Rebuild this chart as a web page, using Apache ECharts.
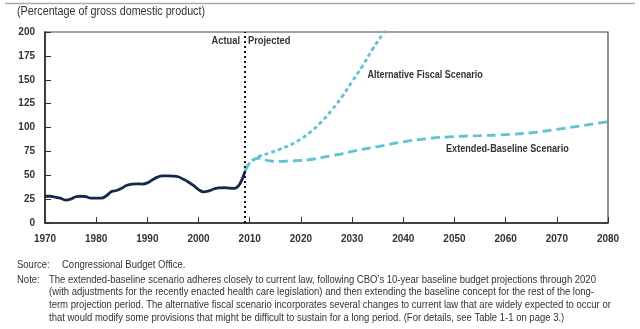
<!DOCTYPE html>
<html>
<head>
<meta charset="utf-8">
<script src="https://cdn.jsdelivr.net/npm/echarts@6/dist/echarts.min.js"></script>
<style>
  html, body { margin: 0; padding: 0; background: #fff; }
  #chart { width: 640px; height: 329px; }
</style>
</head>
<body>
<div id="chart"></div>
<script>
// Federal debt held by the public, percentage of GDP
const actualYears = [1970,1971,1972,1973,1974,1975,1976,1977,1978,1979,1980,1981,1982,1983,1984,1985,1986,1987,1988,1989,1990,1991,1992,1993,1994,1995,1996,1997,1998,1999,2000,2001,2002,2003,2004,2005,2006,2007,2008,2009];
const actualDebt = [28,28,27,26,24,25,27.5,28,27.5,26,26,26,28.5,33,34,36.5,39.5,40.8,41,40.8,42,45.3,48.1,49.3,49.3,49.1,48.4,45.9,43,39.4,35,32.6,33.6,35.6,36.8,36.9,36.5,36.2,40.2,53];

const altYears = [2009,2010,2011,2012,2014,2016,2018,2020,2022,2024,2026,2028,2030,2032,2034,2036,2037];
const altDebt = [53,63,67,70,73.5,77.5,82,88,96,106,118,132,148,164,182,198,207];

const baseYears = [2009,2010,2011,2012,2013,2014,2016,2018,2020,2022,2024,2026,2028,2030,2035,2040,2045,2050,2055,2060,2065,2070,2075,2080];
const baseDebt = [53,63,67,68,66,65,64.5,65,65.5,66.5,68.5,70.5,72.5,75,80,85,88.5,90.5,91.5,92.5,94.5,98,102,106];

const xTicks = [1970,1980,1990,2000,2010,2020,2030,2040,2050,2060,2070,2080];
const yTicks = [0,25,50,75,100,125,150,175,200];
const boundaryYear = 2009;

const noteLines = [
  'The extended-baseline scenario adheres closely to current law, following CBO\u2019s 10-year baseline budget projections through 2020',
  '(with adjustments for the recently enacted health care legislation) and then extending the baseline concept for the rest of the long-',
  'term projection period. The alternative fiscal scenario incorporates several changes to current law that are widely expected to occur or',
  'that would modify some provisions that might be difficult to sustain for a long period. (For details, see Table 1-1 on page 3.)'
];

const pairs = (xs, ys) => xs.map((x, i) => [x, ys[i]]);

const FONT = '"Liberation Sans", Arial, sans-serif';
const dark = '#16284c';
const cyan = '#5ec3d6';
const textCol = '#333';
const NOTE_SCALE = 0.95;

// narrow text block: anchored at (x, y), squeezed horizontally by sx
function narrowText(x, y, text, font, sx, align) {
  return {
    type: 'text', x: x, y: y, scaleX: sx, scaleY: 1,
    style: { x: 0, y: 0, text: text, font: font, fill: textCol, textAlign: align || 'left', textVerticalAlign: 'middle' }
  };
}

const chart = echarts.init(document.getElementById('chart'), null, { renderer: 'canvas' });

const graphics = [
  { type: 'line', shape: { x1: 5, y1: 3.5, x2: 635, y2: 3.5 }, style: { stroke: '#aaa', lineWidth: 1.5 } },
  narrowText(17, 12, '(Percentage of gross domestic product)', '12px ' + FONT, 0.895),
  narrowText(240, 41.5, 'Actual', 'bold 10px ' + FONT, 0.93, 'right'),
  narrowText(248, 41.5, 'Projected', 'bold 10px ' + FONT, 0.93),
  narrowText(367.5, 75, 'Alternative Fiscal Scenario', 'bold 11px ' + FONT, 0.82),
  narrowText(446, 149, 'Extended-Baseline Scenario', 'bold 11px ' + FONT, 0.83),
  narrowText(17, 265, 'Source:', '10px ' + FONT, NOTE_SCALE),
  narrowText(62, 265, 'Congressional Budget Office.', '10px ' + FONT, NOTE_SCALE),
  narrowText(17, 280, 'Note:', '10px ' + FONT, NOTE_SCALE)
];
noteLines.forEach((line, i) => {
  graphics.push(narrowText(49, 280 + i * 12.6, line, '10px ' + FONT, NOTE_SCALE));
});

chart.setOption({
  animation: false,
  backgroundColor: '#fff',
  grid: {
    left: 45, right: 32, top: 32, bottom: 106,
    show: true, borderColor: '#444', borderWidth: 1.2
  },
  xAxis: {
    type: 'value', min: 1970, max: 2080, interval: 10,
    axisLine: { lineStyle: { color: '#222', width: 1.5 } },
    axisTick: { inside: true, length: 6, lineStyle: { color: '#333', width: 1 } },
    splitLine: { show: false },
    axisLabel: {
      color: textCol, fontFamily: FONT, fontWeight: 'bold', fontSize: 10, margin: 11,
      formatter: v => xTicks.includes(v) ? String(v) : ''
    }
  },
  yAxis: {
    type: 'value', min: 0, max: 200, interval: 25,
    axisLine: { show: true, lineStyle: { color: '#222', width: 1.5 } },
    axisTick: { show: true, inside: true, length: 6, lineStyle: { color: '#333', width: 1 } },
    splitLine: { show: false },
    axisLabel: {
      color: textCol, fontFamily: FONT, fontWeight: 'bold', fontSize: 10, margin: 10,
      formatter: v => yTicks.includes(v) ? String(v) : ''
    }
  },
  series: [
    {
      name: 'Alternative Fiscal Scenario',
      type: 'line', smooth: true, symbol: 'none', clip: true,
      data: pairs(altYears, altDebt),
      lineStyle: { color: cyan, width: 2.8, type: [4, 3] },
      z: 2
    },
    {
      name: 'Extended-Baseline Scenario',
      type: 'line', smooth: true, symbol: 'none',
      data: pairs(baseYears, baseDebt),
      lineStyle: { color: cyan, width: 2.8, type: [9, 5] },
      z: 2
    },
    {
      name: 'Actual',
      type: 'line', smooth: 0.4, symbol: 'none',
      data: pairs(actualYears, actualDebt),
      lineStyle: { color: dark, width: 2.8 },
      z: 3,
      markLine: {
        silent: true, symbol: 'none',
        lineStyle: { color: '#111', width: 2, type: [2, 3] },
        label: { show: false },
        data: [{ xAxis: boundaryYear }]
      }
    }
  ],
  graphic: graphics
});
</script>
</body>
</html>
